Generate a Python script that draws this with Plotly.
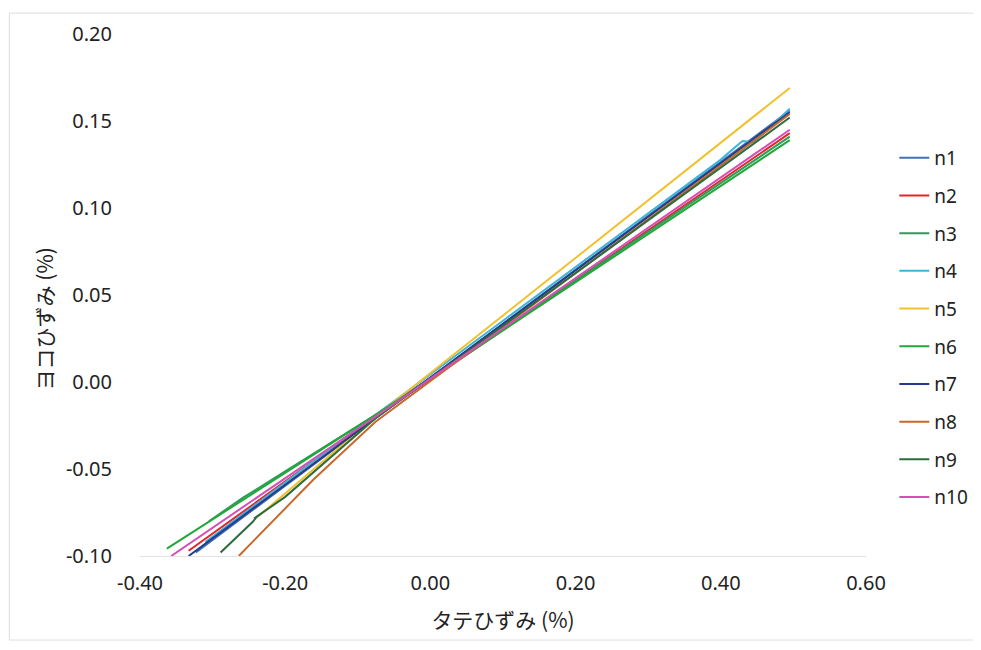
import plotly.graph_objects as go

names = ["n1", "n2", "n3", "n4", "n5", "n6", "n7", "n8", "n9", "n10"]
colors = ["#3F72B8", "#E3262B", "#2F9A5E", "#3FB4D6", "#F2C12E",
          "#22A838", "#243A8A", "#C8682C", "#2C6B3C", "#D550B5"]

n1_x = [-0.323, -0.200, -0.076, 0.100, 0.300, 0.400, 0.495]
n1_y = [-0.098, -0.0596, -0.021, 0.0335, 0.0955, 0.1266, 0.156]
n2_x = [-0.333, -0.200, -0.076, 0.100, 0.300, 0.400, 0.495]
n2_y = [-0.097, -0.057, -0.020, 0.030, 0.0873, 0.116, 0.143]
n3_x = [-0.305, -0.258, -0.200, -0.076, 0.100, 0.300, 0.400, 0.495]
n3_y = [-0.080, -0.0665, -0.0514, -0.019, 0.0303, 0.0863, 0.1144, 0.141]
n4_x = [-0.310, -0.200, -0.076, 0.100, 0.300, 0.400, 0.420, 0.430, 0.445, 0.495]
n4_y = [-0.092, -0.0577, -0.019, 0.0352, 0.0968, 0.1278, 0.1350, 0.1385, 0.1378, 0.157]
n5_x = [-0.238, -0.200, -0.076, 0.100, 0.300, 0.400, 0.495]
n5_y = [-0.0775, -0.064, -0.020, 0.0382, 0.1044, 0.1376, 0.169]
n6_x = [-0.363, -0.200, -0.076, 0.100, 0.300, 0.400, 0.495]
n6_y = [-0.0958, -0.0522, -0.019, 0.0297, 0.085, 0.1128, 0.139]
n7_x = [-0.333, -0.200, -0.076, 0.100, 0.300, 0.400, 0.495]
n7_y = [-0.100, -0.059, -0.021, 0.0332, 0.0948, 0.1258, 0.155]
n8_x = [-0.264, -0.200, -0.161, -0.076, 0.100, 0.300, 0.400, 0.495]
n8_y = [-0.100, -0.0727, -0.056, -0.023, 0.0315, 0.0935, 0.1246, 0.154]
n9_x = [-0.289, -0.245, -0.238, -0.243, -0.200, -0.076, 0.100, 0.300, 0.400, 0.495]
n9_y = [-0.098, -0.0805, -0.0770, -0.0785, -0.066, -0.021, 0.0323, 0.0928, 0.1233, 0.152]
n10_x = [-0.357, -0.200, -0.076, 0.100, 0.300, 0.400, 0.495]
n10_y = [-0.100, -0.0553, -0.020, 0.0308, 0.0886, 0.1176, 0.145]

xs = [n1_x, n2_x, n3_x, n4_x, n5_x, n6_x, n7_x, n8_x, n9_x, n10_x]
ys = [n1_y, n2_y, n3_y, n4_y, n5_y, n6_y, n7_y, n8_y, n9_y, n10_y]

x_ticks = [-0.4, -0.2, 0.0, 0.2, 0.4, 0.6]
x_labels = ["-0.40", "-0.20", "0.00", "0.20", "0.40", "0.60"]
y_ticks = [-0.10, -0.05, 0.0, 0.05, 0.10, 0.15, 0.20]
y_labels = ["-0.10", "-0.05", "0.00", "0.05", "0.10", "0.15", "0.20"]

fig = go.Figure()
for nm, c, x, y in zip(names, colors, xs, ys):
    fig.add_trace(go.Scatter(x=x, y=y, mode="lines", name=nm, legendgroup=nm,
                             line=dict(color=c, width=2)))

font_main = "Noto Sans, Noto Sans CJK JP, sans-serif"
fig.update_layout(
    width=981, height=634,
    paper_bgcolor="white", plot_bgcolor="white",
    margin=dict(l=132, r=123, t=22, b=86),
    font=dict(family=font_main, size=20, color="#222222"),
    legend=dict(x=1.039, y=0.799, xanchor="left", yanchor="top",
                font=dict(size=19, color="#222222"),
                tracegroupgap=10, itemwidth=30, bgcolor="rgba(0,0,0,0)"),
    xaxis=dict(range=[-0.4, 0.6], tickvals=x_ticks, ticktext=x_labels,
               showgrid=False, zeroline=False, showline=True,
               linecolor="#e3e3e3", linewidth=1, ticks="",
               ticklabelstandoff=9,
               title=dict(text="タテひずみ\u00a0(%)", standoff=18,
                          font=dict(family="Noto Sans CJK JP", size=21))),
    yaxis=dict(range=[-0.10, 0.20], tickvals=y_ticks, ticktext=y_labels,
               showgrid=False, zeroline=False, showline=False, ticks="",
               ticklabelstandoff=27),
    annotations=[dict(text="ヨコひずみ\u00a0(%)", xref="paper", yref="paper",
                      x=-0.131, y=0.455, xanchor="center", yanchor="middle",
                      showarrow=False, textangle=-90,
                      font=dict(family="Noto Sans CJK JP", size=21, color="#222222"))],
    shapes=[dict(type="rect", xref="paper", yref="paper",
                 x0=-0.18, x1=1.15, y0=-0.161, y1=1.04,
                 line=dict(color="#dddddd", width=1))],
)

fig.write_html("out.html")
